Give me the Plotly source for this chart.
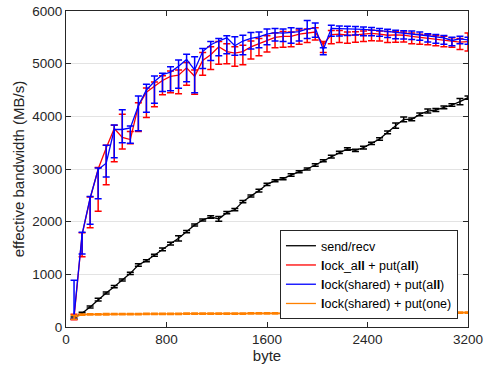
import plotly.graph_objects as go

# message size in bytes
x_bytes = [64 * i for i in range(1, 51)]

# send/recv
sendrecv = [170, 260, 380, 519, 646, 766, 892, 1019, 1177, 1259,
            1361, 1475, 1582, 1684, 1810, 1937, 2032, 2089, 2051, 2171,
            2228, 2380, 2487, 2589, 2709, 2778, 2816, 2886, 2949, 3000,
            3076, 3158, 3234, 3316, 3380, 3354, 3405, 3487, 3570, 3696,
            3823, 3943, 3943, 4038, 4101, 4120, 4171, 4215, 4278, 4354]
sendrecv_err = [20, 20, 20, 25, 20, 20, 20, 20, 25, 20,
                20, 25, 25, 50, 20, 20, 20, 25, 45, 20,
                20, 20, 20, 25, 20, 20, 20, 25, 20, 20,
                25, 20, 25, 20, 25, 20, 25, 20, 25, 25,
                50, 45, 25, 25, 40, 30, 25, 25, 60, 30]

# lock_all + put(all)
lockall_putall = [180, 1750, 2440, 3000, 3400, 3770, 3600, 3560, 4200, 4460,
                  4570, 4680, 4760, 4780, 4920, 4760, 5060, 5170, 5320, 5230,
                  5200, 5230, 5320, 5380, 5440, 5500, 5520, 5520, 5560, 5580,
                  5600, 5360, 5550, 5560, 5540, 5545, 5560, 5575, 5560, 5540,
                  5545, 5540, 5520, 5500, 5490, 5470, 5450, 5430, 5410, 5420]
lockall_hi = [60, 40, 30, 30, 50, 60, 440, 150, 60, 80,
              80, 90, 100, 100, 100, 120, 150, 150, 100, 150,
              120, 120, 110, 100, 90, 80, 90, 80, 80, 80,
              80, 60, 80, 70, 60, 60, 60, 60, 60, 70,
              60, 60, 60, 60, 60, 60, 70, 60, 70, 160]
lockall_lo = [40, 415, 554, 800, 700, 630, 220, 80, 490, 480,
              390, 270, 310, 350, 330, 340, 280, 280, 330, 230,
              250, 250, 230, 230, 220, 200, 210, 200, 190, 180,
              150, 150, 170, 160, 150, 140, 140, 140, 130, 140,
              140, 130, 140, 130, 130, 130, 130, 120, 140, 180]

# lock(shared) + put(all)
shared_putall = [210, 1760, 2450, 2990, 3110, 3750, 3750, 3780, 4200, 4500,
                 4660, 4790, 4840, 4950, 5080, 4880, 5230, 5360, 5430, 5490,
                 5340, 5430, 5480, 5510, 5560, 5590, 5580, 5590, 5610, 5660,
                 5680, 5270, 5670, 5665, 5655, 5655, 5650, 5640, 5630, 5615,
                 5595, 5580, 5570, 5555, 5530, 5510, 5490, 5440, 5470, 5450]
shared_hi = [680, 40, 30, 30, 340, 85, 376, 36, 186, 108,
             105, 30, 103, 120, 97, 250, 60, 60, 50, 40,
             170, 110, 110, 90, 100, 80, 80, 90, 60, 160,
             90, 30, 60, 50, 55, 50, 45, 45, 40, 40,
             40, 45, 50, 45, 40, 45, 45, 60, 50, 50]
shared_lo = [60, 374, 500, 554, 260, 535, 250, 293, 472, 424,
             413, 320, 353, 418, 422, 430, 320, 300, 280, 300,
             180, 260, 200, 210, 200, 160, 160, 200, 180, 180,
             180, 100, 150, 140, 120, 110, 120, 110, 110, 120,
             120, 110, 110, 110, 120, 120, 120, 100, 90, 80]

# lock(shared) + put(one)
shared_putone = [185, 235, 238, 240, 242, 243, 244, 246, 246, 247,
                 248, 249, 250, 250, 252, 252, 253, 253, 254, 255,
                 255, 256, 257, 257, 258, 259, 259, 260, 261, 261,
                 262, 263, 263, 264, 265, 265, 266, 267, 267, 268,
                 269, 269, 270, 271, 271, 272, 273, 273, 274, 275]
shared_putone_err = [40, 12, 12, 12, 12, 12, 12, 12, 12, 12,
                     12, 12, 12, 12, 12, 12, 12, 12, 12, 12,
                     12, 12, 12, 12, 12, 12, 12, 12, 12, 12,
                     12, 12, 12, 12, 12, 12, 12, 12, 12, 12,
                     12, 12, 12, 12, 12, 12, 12, 12, 12, 12]

x_ticks = [0, 800, 1600, 2400, 3200]
y_ticks = [0, 1000, 2000, 3000, 4000, 5000, 6000]

FONT = "Liberation Sans, Arial, sans-serif"
AXIS_COLOR = "#262626"


def series(name, y, hi, lo, color, width=1.3):
    return go.Scatter(
        x=x_bytes, y=y, name=name, mode="lines",
        line=dict(color=color, width=width),
        error_y=dict(type="data", symmetric=False, array=hi, arrayminus=lo,
                     color=color, thickness=1.5, width=3.5),
    )


fig = go.Figure()
fig.add_trace(series("send/recv", sendrecv, sendrecv_err, sendrecv_err, "#000000"))
fig.add_trace(series("<b>l</b>ock_a<b>ll</b> + put(a<b>ll</b>)",
                     lockall_putall, lockall_hi, lockall_lo, "#ff0000"))
fig.add_trace(series("<b>l</b>ock(shared) + put(a<b>ll</b>)",
                     shared_putall, shared_hi, shared_lo, "#0000ff"))
fig.add_trace(series("<b>l</b>ock(shared) + put(one)",
                     shared_putone, shared_putone_err, shared_putone_err, "#ff8000"))

axis_common = dict(
    showline=True, linecolor=AXIS_COLOR, linewidth=1, mirror="ticks",
    ticks="inside", ticklen=5, tickcolor=AXIS_COLOR, zeroline=False,
    automargin=False,
    tickfont=dict(family=FONT, size=13.5, color=AXIS_COLOR),
)

fig.update_xaxes(
    range=[0, 3200], tickvals=x_ticks, ticktext=[str(v) for v in x_ticks],
    showgrid=False,
    title=dict(text="byte", font=dict(family=FONT, size=15, color=AXIS_COLOR), standoff=2),
    **axis_common,
)
fig.update_yaxes(
    range=[0, 6000], tickvals=y_ticks, ticktext=[str(v) for v in y_ticks],
    showgrid=True, gridcolor="#e3e3e3", gridwidth=1,
    title=dict(text="effective bandwidth (MB/s)",
               font=dict(family=FONT, size=15, color=AXIS_COLOR), standoff=4),
    **axis_common,
)

fig.update_layout(
    width=484, height=373,
    margin=dict(l=66, r=16, t=11, b=46),
    paper_bgcolor="white", plot_bgcolor="white",
    font=dict(family=FONT, color=AXIS_COLOR),
    showlegend=True,
    legend=dict(
        x=0.975, y=0.025, xanchor="right", yanchor="bottom",
        bgcolor="white", bordercolor=AXIS_COLOR, borderwidth=1,
        font=dict(family=FONT, size=12.5, color="#000000"),
        tracegroupgap=0, itemwidth=30,
    ),
)

fig.write_html("out.html")
